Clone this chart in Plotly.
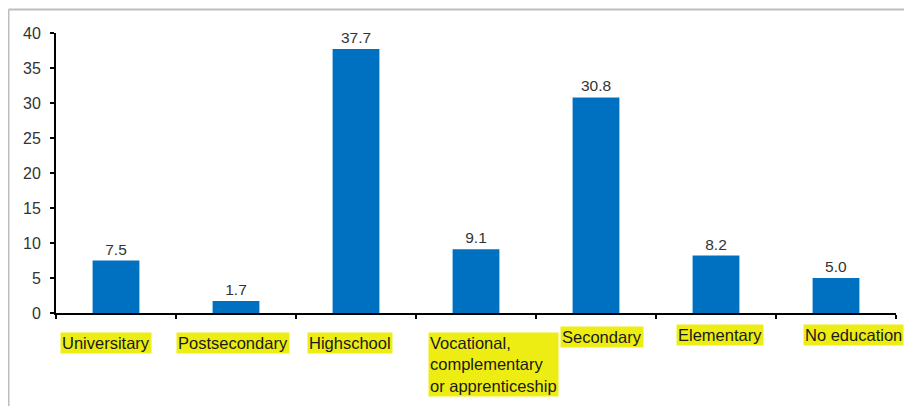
import plotly.graph_objects as go

# data
categories = ["Universitary", "Postsecondary", "Highschool", "Vocational",
              "Secondary", "Elementary", "No education"]
labels = ["Universitary", "Postsecondary", "Highschool",
          "Vocational,<br>complementary<br>or apprenticeship",
          "Secondary", "Elementary", "No education"]
values = [7.5, 1.7, 37.7, 9.1, 30.8, 8.2, 5.0]
y_ticks = [0, 5, 10, 15, 20, 25, 30, 35, 40]

# label placement as seen in the source (pixel offsets from category centre / axis)
label_dx = [-56, -60, -49, -48, -36, -40, -33]
label_dy = [-19, -19, -19, -19, -13, -11, -11]

# page body has an 8px margin, so the figure is a bit smaller than the window
OFF = 8
W, H = 912 - OFF, 406 - OFF
L, R, T, B = 48, 16, 25, 93
pw, ph = W - L - R, H - T - B

fig = go.Figure()
fig.add_trace(go.Bar(
    x=categories, y=values,
    marker_color="#0070C0", marker_line_width=0,
    text=[f"{v:.1f}" for v in values], textposition="outside",
    textfont=dict(size=15.5, color="#333333"),
    cliponaxis=False, showlegend=False,
))

for i, lab in enumerate(labels):
    fig.add_annotation(
        x=categories[i], xref="x", y=0, yref="paper",
        xanchor="left", yanchor="top", align="left",
        xshift=label_dx[i], yshift=label_dy[i],
        text=lab, showarrow=False, bgcolor="#EDED14", borderpad=1,
        font=dict(size=16.5, color="#1a1a1a"),
    )

# light grey frame (top and left edges visible)
x0 = (0.5 - L) / pw
y_top = (H - B - 1.5) / ph
fig.add_shape(type="line", xref="paper", yref="paper", x0=x0, x1=(W - L) / pw,
              y0=y_top, y1=y_top, line=dict(color="#BDBDBD", width=2))
fig.add_shape(type="line", xref="paper", yref="paper", x0=x0, x1=x0,
              y0=y_top, y1=-B / ph, line=dict(color="#BDBDBD", width=2))

fig.update_xaxes(showticklabels=False, showline=True, linecolor="black", linewidth=2,
                 ticks="outside", tickson="boundaries", ticklen=4, tickwidth=1.5,
                 tickcolor="black", range=[-0.5, 6.5], showgrid=False, zeroline=False)
fig.update_yaxes(range=[0, 40], tickvals=y_ticks, showline=True, linecolor="black",
                 linewidth=2, ticks="outside", ticklen=4, tickwidth=2, tickcolor="black",
                 showgrid=False, zeroline=False, ticklabelstandoff=6,
                 tickfont=dict(size=16, color="#333333"))

fig.update_layout(
    width=W, height=H, bargap=0.61,
    template="plotly_white", plot_bgcolor="white", paper_bgcolor="white",
    font=dict(family="Liberation Sans, Arial, sans-serif"),
    margin=dict(l=L, r=R, t=T, b=B, pad=0),
)

fig.write_html("out.html")
